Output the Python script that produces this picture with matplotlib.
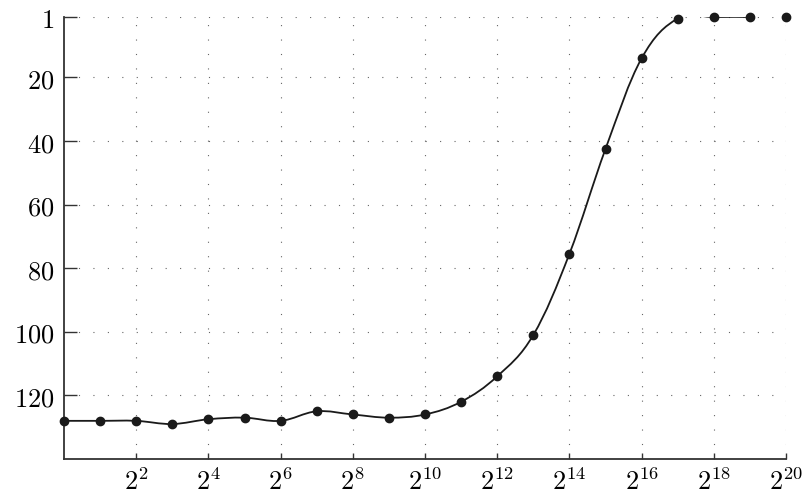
import numpy as np
import matplotlib
matplotlib.use("Agg")
import matplotlib.pyplot as plt
from matplotlib.path import Path
from matplotlib.patches import PathPatch

plt.rcParams['mathtext.fontset'] = 'cm'
plt.rcParams['font.family'] = 'serif'

# exponentes de 2 en el eje x y posición obtenida en cada uno
exponentes = np.arange(0, 21)
posicion = np.array([128, 128, 128, 129, 127.5, 127, 128, 125, 126, 127,
                     126, 122, 114, 101, 75.5, 42.5, 14, 1.5, 1, 1, 1])

xticks = np.arange(2, 21, 2)
yticks = [1, 20, 40, 60, 80, 100, 120]


def curva_suave(x, y, k=0.18):
    # curva de Bezier cúbica que pasa por todos los puntos
    pts = np.column_stack([x, y]).astype(float)
    n = len(pts)
    verts = [pts[0]]
    codes = [Path.MOVETO]
    for i in range(n - 1):
        p_ant = pts[i - 1] if i > 0 else pts[i]
        p_sig = pts[i + 2] if i + 2 < n else pts[i + 1]
        c1 = pts[i] + k * (pts[i + 1] - p_ant)
        c2 = pts[i + 1] - k * (p_sig - pts[i])
        verts += [c1, c2, pts[i + 1]]
        codes += [Path.CURVE4] * 3
    return Path(verts, codes)


fig = plt.figure(figsize=(8.1, 5.02), dpi=100)
ax = fig.add_axes([64 / 810, 1 - 460 / 502, 722 / 810, 442 / 502])

# la línea suave llega hasta 2^19, el último punto va suelto
ax.add_patch(PathPatch(curva_suave(exponentes[:20], posicion[:20]),
                       facecolor='none', edgecolor='#1a1a1a', lw=1.3, zorder=3))
ax.plot(exponentes, posicion, 'o', color='#1a1a1a', ms=6, zorder=4, clip_on=False)

ax.set_xlim(0, 20)
ax.set_ylim(140, 1)

ax.set_xticks(xticks)
ax.set_xticklabels([r'$2^{%d}$' % e for e in xticks])
ax.set_yticks(yticks)
ax.set_yticklabels([r'$%d$' % v for v in yticks])

ax.grid(True, color='#666666', lw=0.8, linestyle=(0, (1, 12)))
for lado in ['top', 'right']:
    ax.spines[lado].set_visible(False)
for lado in ['left', 'bottom']:
    ax.spines[lado].set_color('#333333')
    ax.spines[lado].set_linewidth(1.3)

ax.tick_params(axis='y', direction='in', length=9, width=1.0, color='#333333',
               labelsize=19, pad=7)
ax.tick_params(axis='x', direction='in', length=4.5, width=1.0, color='#333333',
               labelsize=19, pad=6)

fig.savefig('out.png', dpi=100)
